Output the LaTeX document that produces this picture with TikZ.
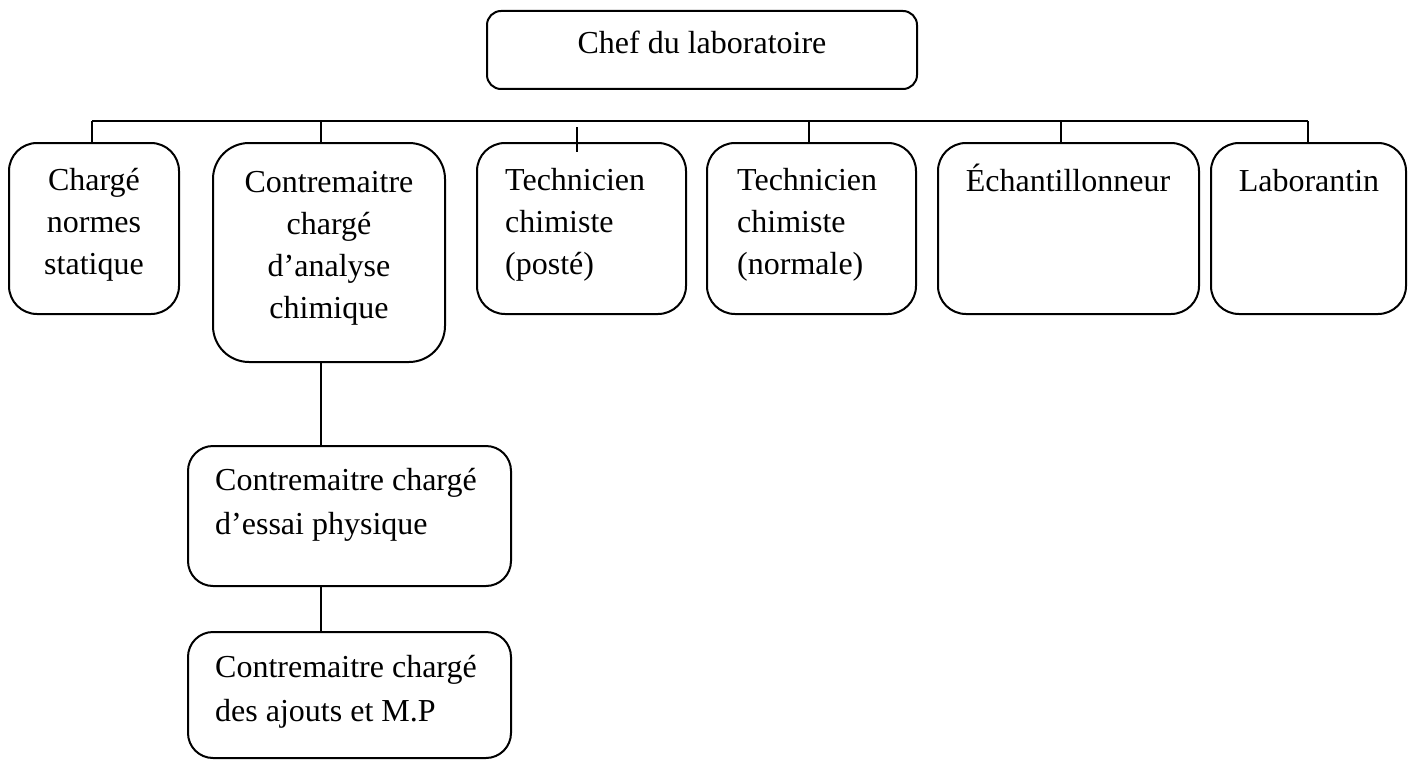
\documentclass[tikz,border=0pt]{standalone}
\usepackage{fontspec}
\setmainfont{Liberation Serif}
\begin{document}
\begin{tikzpicture}[x=1pt,y=-1pt,
  box/.style={draw, line width=2pt, rounded corners=#1, inner sep=0pt},
  box/.default=28pt,
  link/.style={line width=2pt},
  txt/.style={font=\fontsize{32}{42}\selectfont, inner sep=0pt, anchor=base, align=center},
  txtl/.style={font=\fontsize{32}{42}\selectfont, inner sep=0pt, anchor=base west, align=left},
  txtw/.style={font=\fontsize{32}{44}\selectfont, inner sep=0pt, anchor=base west, align=left}]
\useasboundingbox (0,0) rectangle (1414,760);

% boxes
\node[box=14pt, minimum width=430pt, minimum height=78pt] (chef) at (702,50) {};
\node[box, minimum width=170pt, minimum height=171pt] (b1) at (94,228.5) {};
\node[box=36pt, minimum width=232pt, minimum height=219pt] (b2) at (329,252.5) {};
\node[box, minimum width=209pt, minimum height=171pt] (b3) at (581.5,228.5) {};
\node[box, minimum width=209pt, minimum height=171pt] (b4) at (811.5,228.5) {};
\node[box, minimum width=261pt, minimum height=171pt] (b5) at (1068.5,228.5) {};
\node[box, minimum width=195pt, minimum height=171pt] (b6) at (1308.5,228.5) {};
\node[box=25pt, minimum width=323pt, minimum height=140pt] (b7) at (349.5,516) {};
\node[box=25pt, minimum width=323pt, minimum height=126pt] (b8) at (349.5,695) {};

% texts (anchored on the baseline of their last line)
\node[txt] (tchef) at (702,54) {Chef du laboratoire};
\node[txt] (t1) at (94,274) {Chargé\\normes\\statique};
\node[txt] (t2) at (329,318) {Contremaitre\\chargé\\d’analyse\\chimique};
\node[txtl] (t3) at (505,274) {Technicien\\chimiste\\(posté)};
\node[txtl] (t4) at (737,274) {Technicien\\chimiste\\(normale)};
\node[txt] (t5) at (1068,191) {Échantillonneur};
\node[txt] (t6) at (1309,191) {Laborantin};
\node[txtw] (t7) at (215,534) {Contremaitre chargé\\d’essai physique};
\node[txtw] (t8) at (215,721) {Contremaitre chargé\\des ajouts et M.P};

% distribution bar and its drops
\coordinate (j1) at (92,121);
\coordinate (j2) at (321,121);
\coordinate (j4) at (809,121);
\coordinate (j5) at (1061,121);
\coordinate (j6) at (1308,121);
\coordinate (k3) at (577,127);
\draw[link] (j1) -- (j6);
\draw[link] (j1) -- (j1 |- b1.north);
\draw[link] (j2) -- (j2 |- b2.north);
\draw[link] (j4) -- (j4 |- b4.north);
\draw[link] (j5) -- (j5 |- b5.north);
\draw[link] (j6) -- (j6 |- b6.north);
\draw[link] (k3) -- ++(0,25);

% chain below
\draw[link] (b2.south -| j2) -- (b7.north -| j2);
\draw[link] (b7.south -| j2) -- (b8.north -| j2);
\end{tikzpicture}
\end{document}
